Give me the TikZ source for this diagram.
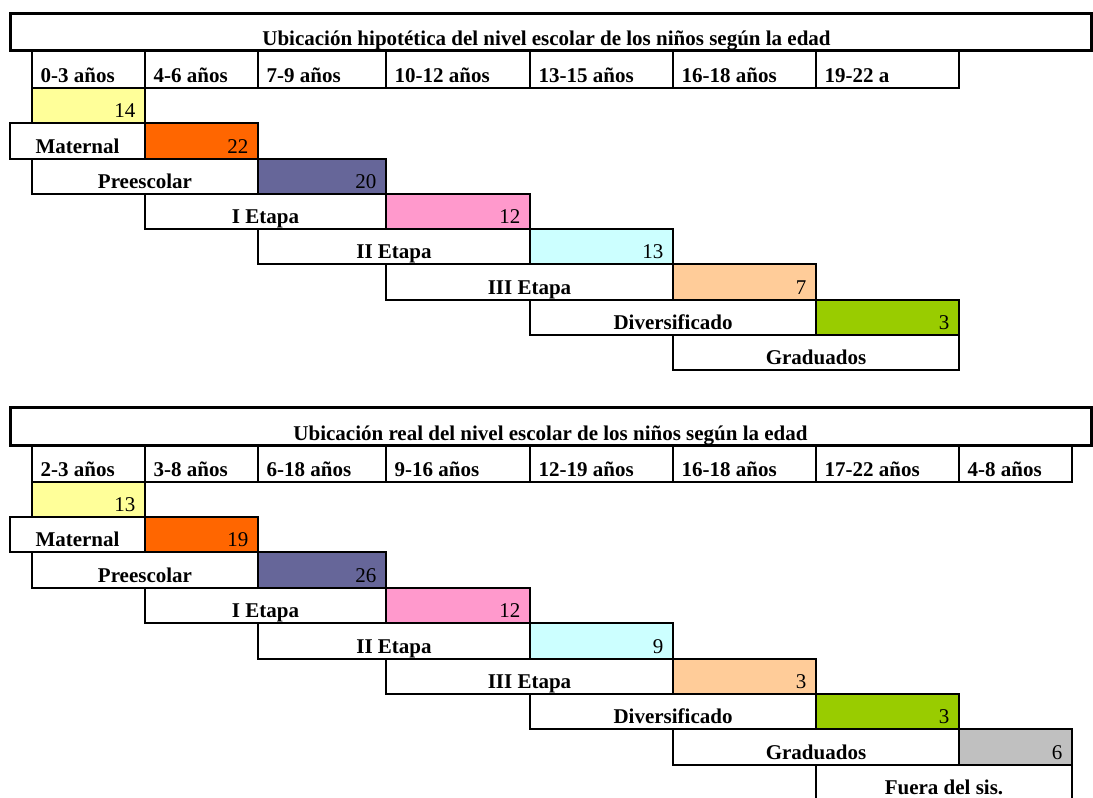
\documentclass[tikz,border=0pt]{standalone}
\usepackage{fontspec}
\setmainfont{Liberation Serif}
\definecolor{cyel}{HTML}{FFFF99}
\definecolor{corange}{HTML}{FF6600}
\definecolor{cpurple}{HTML}{666699}
\definecolor{cpink}{HTML}{FF99CC}
\definecolor{ccyan}{HTML}{CCFFFF}
\definecolor{cpeach}{HTML}{FFCC99}
\definecolor{cgreen}{HTML}{99CC00}
\definecolor{cgray}{HTML}{C0C0C0}
\tikzset{
  cellst/.style={draw=black, line width=2pt, rectangle, inner sep=0pt, outer sep=0pt, anchor=north west},
  titlest/.style={cellst, line width=3pt},
  boldtxt/.style={font=\fontsize{21}{24}\selectfont\bfseries, inner sep=0pt},
  numst/.style={font=\fontsize{21}{24}\selectfont, inner sep=0pt},
}
\newcommand\mkcell[6]{\node[cellst, fill=#6, minimum width={#4pt-#2pt}, minimum height={#5pt-#3pt}] (#1) at (#2,#3) {};}
\newcommand\lefttxt[2]{\node[boldtxt, anchor=base west] (#1t) at ([xshift=8.5pt,yshift=5.5pt]#1.south west) {#2};}
\newcommand\midtxt[2]{\node[boldtxt, anchor=base] (#1t) at ([yshift=5.5pt]#1.south) {#2};}
\newcommand\ntext[2]{\node[numst, anchor=base east] (#1t) at ([xshift=-9.5pt,yshift=5.5pt]#1.south east) {#2};}
\begin{document}
\begin{tikzpicture}[x=1pt,y=-1pt]
\clip (0,0) rectangle (1093,798);
\fill[white] (0,0) rectangle (1093,798);
% ---------- Table 1 ----------
\node[titlest, fill=white, minimum width=1081pt, minimum height=37.5pt] (t1) at (10,13) {};
\node[boldtxt, anchor=base] (t1t) at ([xshift=-4pt,yshift=5pt]t1.south) {Ubicación hipotética del nivel escolar de los niños según la edad};
\mkcell{h1a}{32}{50.5}{145}{88}{white}\lefttxt{h1a}{0-3 años}
\mkcell{h1b}{145}{50.5}{258}{88}{white}\lefttxt{h1b}{4-6 años}
\mkcell{h1c}{258}{50.5}{386}{88}{white}\lefttxt{h1c}{7-9 años}
\mkcell{h1d}{386}{50.5}{530}{88}{white}\lefttxt{h1d}{10-12 años}
\mkcell{h1e}{530}{50.5}{673}{88}{white}\lefttxt{h1e}{13-15 años}
\mkcell{h1f}{673}{50.5}{816}{88}{white}\lefttxt{h1f}{16-18 años}
\mkcell{h1g}{816}{50.5}{959}{88}{white}\lefttxt{h1g}{19-22 a}
\mkcell{a1c}{32}{88}{145}{123.3}{cyel}\ntext{a1c}{14}
\mkcell{a2w}{10}{123.3}{145}{158.6}{white}\midtxt{a2w}{Maternal}
\mkcell{a2c}{145}{123.3}{258}{158.6}{corange}\ntext{a2c}{22}
\mkcell{a3w}{32}{158.6}{258}{193.9}{white}\midtxt{a3w}{Preescolar}
\mkcell{a3c}{258}{158.6}{386}{193.9}{cpurple}\ntext{a3c}{20}
\mkcell{a4w}{145}{193.9}{386}{229.1}{white}\midtxt{a4w}{I Etapa}
\mkcell{a4c}{386}{193.9}{530}{229.1}{cpink}\ntext{a4c}{12}
\mkcell{a5w}{258}{229.1}{530}{264.4}{white}\midtxt{a5w}{II Etapa}
\mkcell{a5c}{530}{229.1}{673}{264.4}{ccyan}\ntext{a5c}{13}
\mkcell{a6w}{386}{264.4}{673}{299.7}{white}\midtxt{a6w}{III Etapa}
\mkcell{a6c}{673}{264.4}{816}{299.7}{cpeach}\ntext{a6c}{7}
\mkcell{a7w}{530}{299.7}{816}{335}{white}\midtxt{a7w}{Diversificado}
\mkcell{a7c}{816}{299.7}{959}{335}{cgreen}\ntext{a7c}{3}
\mkcell{a8w}{673}{335}{959}{370.3}{white}\midtxt{a8w}{Graduados}
% ---------- Table 2 ----------
\node[titlest, fill=white, minimum width=1081pt, minimum height=38.5pt] (t2) at (10,407) {};
\node[boldtxt, anchor=base] (t2t) at ([yshift=5pt]t2.south) {Ubicación real del nivel escolar de los niños según la edad};
\mkcell{h2a}{32}{445.5}{145}{481.5}{white}\lefttxt{h2a}{2-3 años}
\mkcell{h2b}{145}{445.5}{258}{481.5}{white}\lefttxt{h2b}{3-8 años}
\mkcell{h2c}{258}{445.5}{386}{481.5}{white}\lefttxt{h2c}{6-18 años}
\mkcell{h2d}{386}{445.5}{530}{481.5}{white}\lefttxt{h2d}{9-16 años}
\mkcell{h2e}{530}{445.5}{673}{481.5}{white}\lefttxt{h2e}{12-19 años}
\mkcell{h2f}{673}{445.5}{816}{481.5}{white}\lefttxt{h2f}{16-18 años}
\mkcell{h2g}{816}{445.5}{959}{481.5}{white}\lefttxt{h2g}{17-22 años}
\mkcell{h2h}{959}{445.5}{1072}{481.5}{white}\lefttxt{h2h}{4-8 años}
\mkcell{b1c}{32}{481.5}{145}{516.9}{cyel}\ntext{b1c}{13}
\mkcell{b2w}{10}{516.9}{145}{552.3}{white}\midtxt{b2w}{Maternal}
\mkcell{b2c}{145}{516.9}{258}{552.3}{corange}\ntext{b2c}{19}
\mkcell{b3w}{32}{552.3}{258}{587.7}{white}\midtxt{b3w}{Preescolar}
\mkcell{b3c}{258}{552.3}{386}{587.7}{cpurple}\ntext{b3c}{26}
\mkcell{b4w}{145}{587.7}{386}{623.1}{white}\midtxt{b4w}{I Etapa}
\mkcell{b4c}{386}{587.7}{530}{623.1}{cpink}\ntext{b4c}{12}
\mkcell{b5w}{258}{623.1}{530}{658.5}{white}\midtxt{b5w}{II Etapa}
\mkcell{b5c}{530}{623.1}{673}{658.5}{ccyan}\ntext{b5c}{9}
\mkcell{b6w}{386}{658.5}{673}{693.9}{white}\midtxt{b6w}{III Etapa}
\mkcell{b6c}{673}{658.5}{816}{693.9}{cpeach}\ntext{b6c}{3}
\mkcell{b7w}{530}{693.9}{816}{729.3}{white}\midtxt{b7w}{Diversificado}
\mkcell{b7c}{816}{693.9}{959}{729.3}{cgreen}\ntext{b7c}{3}
\mkcell{b8w}{673}{729.3}{959}{764.7}{white}\midtxt{b8w}{Graduados}
\mkcell{b8c}{959}{729.3}{1072}{764.7}{cgray}\ntext{b8c}{6}
\mkcell{b9w}{816}{764.7}{1072}{800.1}{white}\midtxt{b9w}{Fuera del sis.}
\end{tikzpicture}
\end{document}
